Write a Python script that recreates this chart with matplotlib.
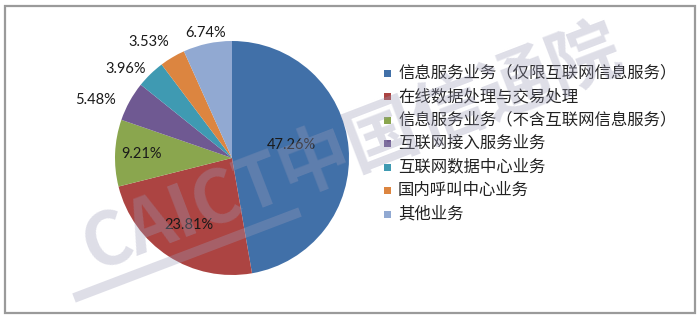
import numpy as np
import matplotlib
matplotlib.use("Agg")
import matplotlib.pyplot as plt
from matplotlib.patches import Rectangle
from matplotlib.lines import Line2D

plt.rcParams['font.family'] = ['Noto Sans CJK SC', 'DejaVu Sans']

# data
categories = ['信息服务业务（仅限互联网信息服务）', '在线数据处理与交易处理',
              '信息服务业务（不含互联网信息服务）', '互联网接入服务业务',
              '互联网数据中心业务', '国内呼叫中心业务', '其他业务']
shares = [47.26, 23.81, 9.21, 5.48, 3.96, 3.53, 6.74]
colors = ['#4170A8', '#AC4442', '#8AA64E', '#6F5992', '#3F9AB2', '#DC8540', '#91A9D2']

# label placement per wedge (radius fraction, angle nudge in degrees)
label_r = [0.52, 0.68, 0.77, 1.27, 1.18, 1.22, 1.09]
label_nudge = [7, 0, 0, 6, 6, 5, 0]

W, H = 700, 319
fig = plt.figure(figsize=(W / 100, H / 100), dpi=100)

# outer frame
fig.patches.append(Rectangle((5 / W, 6 / H), 690 / W, 307 / H, transform=fig.transFigure,
                             fill=False, edgecolor='#9a9a9a', linewidth=1.6))

cx, cy, r = 232, 158, 117
ax = fig.add_axes([(cx - r) / W, (H - cy - r) / H, 2 * r / W, 2 * r / H])
wedges, _ = ax.pie(shares, colors=colors, startangle=90, counterclock=False,
                   radius=1, wedgeprops=dict(linewidth=0))
ax.set_xlim(-1, 1)
ax.set_ylim(-1, 1)
ax.set_aspect('equal')
ax.axis('off')

for w, v, d, nd in zip(wedges, shares, label_r, label_nudge):
    ang = np.deg2rad((w.theta1 + w.theta2) / 2 + nd)
    ax.text(d * np.cos(ang), d * np.sin(ang), f'{v:.2f}%', ha='center', va='center',
            fontsize=10.5, family=['Lato', 'DejaVu Sans'], color='#1a1a1a', clip_on=False)

# legend
for i, (lab, c) in enumerate(zip(categories, colors)):
    y = 73 + i * 23.5
    fig.patches.append(Rectangle((384 / W, (H - y - 3.5) / H), 7 / W, 7 / H,
                                 transform=fig.transFigure, facecolor=c, edgecolor='none'))
    fig.text(398 / W, (H - y) / H, lab, fontsize=11.8, va='center', ha='left', color='#222222')

# watermark
fig.text(352 / W, 170 / H, 'CAICT中国信通院', fontsize=52, fontweight='bold',
         rotation=21, ha='center', va='center', color='#9c9cb8', alpha=0.33, zorder=10)
fig.lines.append(Line2D([74 / W, 300 / W], [(H - 298) / H, (H - 212) / H],
                        transform=fig.transFigure, color='#9c9cb8', alpha=0.33,
                        linewidth=7, solid_capstyle='butt', zorder=10))

fig.savefig('out.png', dpi=100)
